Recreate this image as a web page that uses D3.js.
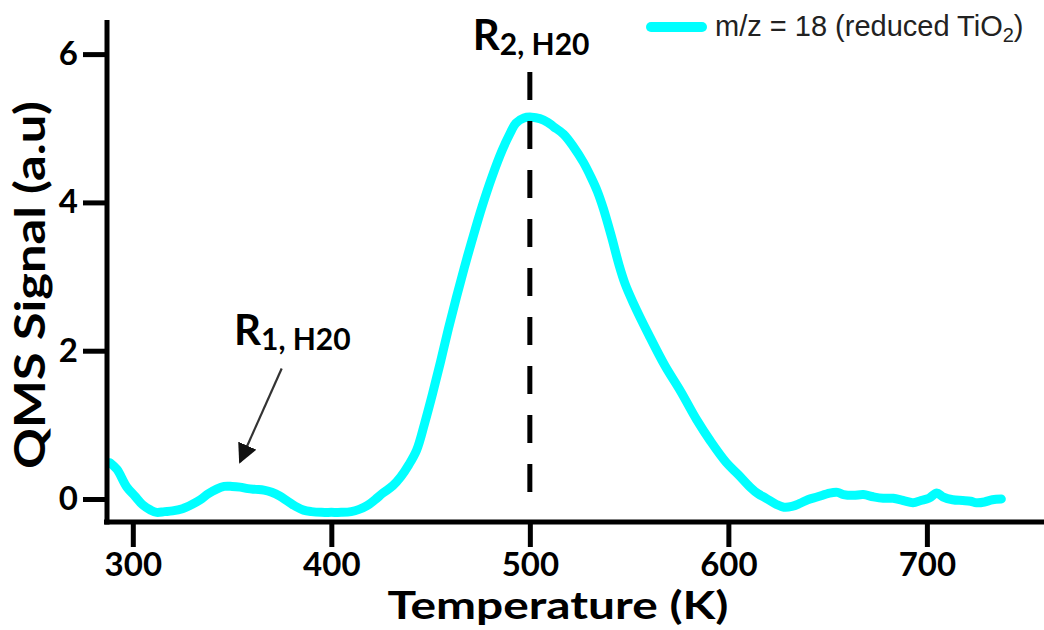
<!DOCTYPE html>
<html>
<head>
<meta charset="utf-8">
<script src="https://cdn.jsdelivr.net/npm/d3@7"></script>
<style>
  html, body { margin: 0; padding: 0; background: #fff; }
  svg { display: block; }
</style>
</head>
<body>
<svg id="chart" width="1044" height="630"></svg>
<script>
// Temperature-programmed desorption trace, m/z = 18 on reduced TiO2
const temperature = [288.5, 292, 297, 301, 305, 309, 312, 316, 320, 325, 330, 334, 338, 342, 346, 350, 354, 358, 362, 366, 370, 374, 378, 382, 386, 390, 395, 400, 405, 410, 414, 418, 422, 426, 431, 435, 439, 443, 447, 451, 455, 459, 463, 467, 471, 476, 481, 486, 490, 493, 497, 501, 505, 509, 512, 517, 522, 527, 531, 534, 537, 541, 545, 548, 552, 560, 568, 576, 584, 591, 599, 605, 611, 615, 619, 624, 628, 632, 636, 640, 645, 651, 655, 658, 663, 668, 673, 678, 683, 688, 693, 697, 701, 705, 708, 713, 718, 722, 725, 729, 733, 737.5];
const signal = [0.49, 0.40, 0.16, 0.04, -0.08, -0.15, -0.18, -0.17, -0.16, -0.13, -0.07, -0.01, 0.07, 0.13, 0.17, 0.17, 0.16, 0.14, 0.13, 0.12, 0.09, 0.04, -0.03, -0.10, -0.15, -0.17, -0.18, -0.18, -0.18, -0.17, -0.14, -0.09, -0.01, 0.08, 0.18, 0.30, 0.46, 0.66, 1.02, 1.42, 1.85, 2.30, 2.72, 3.12, 3.50, 3.95, 4.35, 4.70, 4.93, 5.07, 5.14, 5.15, 5.13, 5.08, 5.02, 4.92, 4.75, 4.54, 4.33, 4.15, 3.92, 3.55, 3.15, 2.90, 2.65, 2.21, 1.80, 1.45, 1.07, 0.78, 0.49, 0.33, 0.16, 0.07, 0.01, -0.07, -0.11, -0.10, -0.06, -0.01, 0.03, 0.08, 0.09, 0.06, 0.05, 0.06, 0.03, 0.01, 0.01, -0.02, -0.05, -0.02, 0.01, 0.08, 0.03, -0.01, -0.02, -0.03, -0.05, -0.04, -0.01, 0.00];

const xTicks = [300, 400, 500, 600, 700];
const yTicks = [0, 2, 4, 6];
const peakTemps = [500];          // R2 peak position
const legendLabel = "m/z = 18 (reduced TiO";

const svg = d3.select("#chart");

const x = d3.scaleLinear().domain([287, 760]).range([107, 1046]);
const y = d3.scaleLinear().domain([-0.31, 6.46]).range([522, 20]);

const boldFont = "Lato, 'Open Sans', sans-serif";

// curve
const line = d3.line()
  .x((d, i) => x(temperature[i]))
  .y(d => y(d))
  .curve(d3.curveCatmullRom.alpha(0.5));

svg.append("path")
  .datum(signal)
  .attr("d", line)
  .attr("fill", "none")
  .attr("stroke", "#00ffff")
  .attr("stroke-width", 9)
  .attr("stroke-linejoin", "round")
  .attr("stroke-linecap", "round");

// dashed marker at the R2 maximum
svg.selectAll("line.peak")
  .data(peakTemps)
  .enter().append("line")
  .attr("class", "peak")
  .attr("x1", d => x(d)).attr("x2", d => x(d))
  .attr("y1", y(5.76)).attr("y2", y(0))
  .attr("stroke", "#000")
  .attr("stroke-width", 5)
  .attr("stroke-dasharray", "28,21");

// axes
const xAxis = d3.axisBottom(x).tickValues(xTicks).tickSizeInner(25).tickSizeOuter(0).tickPadding(6);
const yAxis = d3.axisLeft(y).tickValues(yTicks).tickFormat(d3.format("d")).tickSizeInner(24).tickSizeOuter(0).tickPadding(5);

const gx = svg.append("g").attr("transform", `translate(0,${y.range()[0]})`).call(xAxis);
const gy = svg.append("g").attr("transform", `translate(${x.range()[0]},0)`).call(yAxis);

[gx, gy].forEach(g => {
  g.select(".domain").attr("stroke", "#000").attr("stroke-width", 5);
  g.selectAll(".tick line").attr("stroke", "#000").attr("stroke-width", 5);
  g.selectAll(".tick text")
    .attr("fill", "#000")
    .style("font-family", boldFont)
    .style("font-weight", "bold")
    .style("font-size", "33px");
});
// extend the axes so they meet in a closed corner
gx.select(".domain").attr("d", `M${x.range()[0] - 3},0H${x.range()[1]}`);
gy.select(".domain").attr("d", `M0,${y.range()[1]}V${y.range()[0] + 2.5}`);

// axis titles
svg.append("text")
  .attr("x", 558).attr("y", 619)
  .attr("text-anchor", "middle")
  .attr("textLength", 341).attr("lengthAdjust", "spacingAndGlyphs")
  .style("font-family", boldFont).style("font-weight", "bold").style("font-size", "38px")
  .text("Temperature (K)");

svg.append("text")
  .attr("transform", "translate(45,285) rotate(-90)")
  .attr("text-anchor", "middle")
  .attr("textLength", 368).attr("lengthAdjust", "spacingAndGlyphs")
  .style("font-family", boldFont).style("font-weight", "bold").style("font-size", "42px")
  .text("QMS Signal (a.u)");

// peak labels
function peakLabel(px, py, idx) {
  const t = svg.append("text").attr("x", px).attr("y", py)
    .style("font-family", boldFont).style("font-weight", "bold");
  t.append("tspan").style("font-size", "42px").text("R");
  t.append("tspan").style("font-size", "30px").attr("dy", 5).text(idx + ", H20");
}
peakLabel(x(500) - 57, 50, "2");
peakLabel(x(352) - 2, 345, "1");

// arrow pointing at R1
const defs = svg.append("defs");
defs.append("marker")
  .attr("id", "arrowHead")
  .attr("viewBox", "0 0 10 10")
  .attr("refX", 9).attr("refY", 5)
  .attr("markerWidth", 9).attr("markerHeight", 9)
  .attr("markerUnits", "strokeWidth")
  .attr("orient", "auto")
  .append("path").attr("d", "M0,0L10,5L0,10Z").attr("fill", "#111");

svg.append("line")
  .attr("x1", x(375)).attr("y1", y(1.76))
  .attr("x2", x(354)).attr("y2", y(0.5))
  .attr("stroke", "#333").attr("stroke-width", 2.2)
  .attr("marker-end", "url(#arrowHead)");

// legend
const lg = svg.append("g").attr("transform", "translate(646,27)");
lg.append("line").attr("x1", 5).attr("x2", 56).attr("y1", 0).attr("y2", 0)
  .attr("stroke", "#00ffff").attr("stroke-width", 10).attr("stroke-linecap", "round");
const lt = lg.append("text").attr("x", 69).attr("y", 9)
  .style("font-family", "'Liberation Sans', Arial, sans-serif").style("font-size", "29px").attr("fill", "#222");
lt.append("tspan").text(legendLabel);
lt.append("tspan").style("font-size", "20px").attr("dy", 6).text("2");
lt.append("tspan").attr("dy", -6).text(")");
</script>
</body>
</html>
